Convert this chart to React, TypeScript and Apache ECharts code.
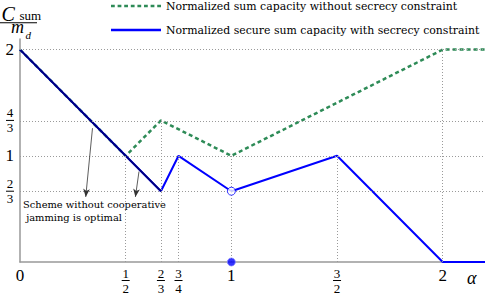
import React, { useEffect, useRef } from "react";
import * as echarts from "echarts";

const xTickValues = [0, 1 / 2, 2 / 3, 3 / 4, 1, 3 / 2, 2];
const xTickLabels = ["0", "1/2", "2/3", "3/4", "1", "3/2", "2"];
const yTickValues = [2 / 3, 1, 4 / 3, 2];
const yTickLabels = ["2/3", "1", "4/3", "2"];

const sumCapX = [0, 1 / 2, 2 / 3, 1, 2, 2.2];
const sumCapY = [2, 1, 4 / 3, 1, 2, 2];
const secureX = [0, 1 / 2, 2 / 3, 3 / 4, 1, 3 / 2, 2, 2.2];
const secureY = [2, 1, 2 / 3, 1, 2 / 3, 1, 0, 0];
const noJamX = [0, 1 / 2, 2 / 3];
const noJamY = [2, 1, 2 / 3];
const openPoint = [1, 2 / 3];
const filledPoint = [1, 0];
const dropX = [1 / 2, 2 / 3, 3 / 4, 1, 3 / 2, 2];
const dropY = [1, 4 / 3, 1, 1, 1, 2];
const gridY = [2 / 3, 1, 4 / 3, 2];
const arrowFromX = [0.343, 0.563];
const arrowFromY = [1.26, 0.852];
const arrowToX = [0.311, 0.546];
const arrowToY = [0.613, 0.613];

const SERIF = "Liberation Serif, serif";
const PROSE = "DejaVu Serif, serif";
const GREEN = "#2E8B57";
const BLUE = "#0000FF";
const NAVY = "#00007A";
const GRID = "#9a9a9a";

function dashPath(): string {
  let d = "path://";
  for (let k = 0; k < 8; k++) d += `M${k * 7},0h4v1h-4z`;
  return d;
}

function fracLabel(s: string): string {
  const p = s.split("/");
  if (p.length === 2) return `{n|${p[0]}}\n{b| }\n{n|${p[1]}}`;
  return `{i|${s}}`;
}

function labelFor(values: number[], labels: string[], v: number): string {
  for (let i = 0; i < values.length; i++) {
    if (Math.abs(values[i] - v) < 1e-6) return fracLabel(labels[i]);
  }
  return "";
}

const rich = {
  n: { fontSize: 13, lineHeight: 12, fontFamily: SERIF, color: "#000", align: "center" },
  b: { fontSize: 1, width: 8, height: 1, lineHeight: 3, backgroundColor: "#000", align: "center" },
  i: { fontSize: 17, lineHeight: 16, fontFamily: SERIF, color: "#000", align: "center" },
};

export default function App() {
  const ref = useRef<HTMLDivElement>(null);
  useEffect(() => {
    document.body.style.margin = "0";
    if (!ref.current) return;
    const chart = echarts.init(ref.current, undefined, { renderer: "svg" });
    const dotted = { color: GRID, width: 1, type: [1, 2] as any };
    chart.setOption({
      animation: false,
      textStyle: { fontFamily: SERIF },
      grid: { left: 20, width: 466.6, top: 39, bottom: 33 },
      legend: {
        orient: "vertical",
        left: 111,
        top: -1,
        padding: 0,
        itemWidth: 50,
        itemHeight: 2.5,
        itemGap: 10,
        symbolKeepAspect: false,
        data: [
          { name: "Normalized sum capacity without secrecy constraint", icon: dashPath() },
          { name: "Normalized secure sum capacity with secrecy constraint", icon: "path://M0,0h50v1h-50z" },
        ],
        textStyle: { fontFamily: PROSE, fontSize: 10.9, color: "#000", lineHeight: 14 },
      },
      xAxis: {
        type: "value",
        min: 0,
        max: 2.2,
        axisLine: { show: true, lineStyle: { color: "#999", width: 1.5 } },
        axisTick: { show: false },
        splitLine: { show: false },
        axisLabel: {
          customValues: xTickValues,
          margin: 5,
          fontFamily: SERIF,
          formatter: (v: number) => labelFor(xTickValues, xTickLabels, v),
          rich,
        },
      },
      yAxis: {
        type: "value",
        min: 0,
        max: 2.1,
        axisLine: { show: true, onZero: false, lineStyle: { color: "#999", width: 1.5 } },
        axisTick: { show: false },
        splitLine: { show: false },
        axisLabel: {
          customValues: yTickValues,
          margin: 6,
          fontFamily: SERIF,
          formatter: (v: number) => labelFor(yTickValues, yTickLabels, v),
          rich,
        },
      },
      graphic: [
        { type: "text", x: 1.5, y: 13.5, style: { text: "C", font: `italic 20px ${SERIF}`, lineHeight: 15, fill: "#000", verticalAlign: "middle" } },
        { type: "text", x: 19.5, y: 15.8, style: { text: "sum", font: `13px ${SERIF}`, lineHeight: 9, fill: "#000", verticalAlign: "middle" } },
        { type: "rect", shape: { x: 0, y: 22.3, width: 37, height: 1 }, style: { fill: "#000" } },
        { type: "text", x: 11, y: 27.2, style: { text: "m", font: `italic 18px ${SERIF}`, lineHeight: 9, fill: "#000", verticalAlign: "middle" } },
        { type: "text", x: 25.5, y: 34.5, style: { text: "d", font: `italic 11px ${SERIF}`, lineHeight: 8, fill: "#000", verticalAlign: "middle" } },
        { type: "text", x: 467, y: 278, style: { text: "α", font: `italic 18px ${SERIF}`, fill: "#000", verticalAlign: "middle" } },
        {
          type: "text",
          x: 23,
          y: 198,
          style: {
            text: "Scheme without cooperative\n jamming is optimal",
            font: `9.9px ${PROSE}`,
            lineHeight: 13,
            fill: "#000",
            verticalAlign: "top",
          },
        },
      ],
      series: [
        {
          name: "guides",
          type: "line",
          data: [],
          silent: true,
          z: 1,
          markLine: {
            silent: true,
            symbol: ["none", "none"],
            label: { show: false },
            lineStyle: dotted,
            data: [
              ...gridY.map((y) => ({ yAxis: y, lineStyle: dotted })),
              ...dropX.map((x, i) => [
                { coord: [x, 0], lineStyle: dotted },
                { coord: [x, dropY[i]] },
              ]),
            ],
          },
        },
        {
          name: "arrows",
          type: "line",
          data: [],
          silent: true,
          z: 5,
          markLine: {
            silent: true,
            symbol: ["none", "arrow"],
            symbolSize: [5, 8],
            label: { show: false },
            lineStyle: { color: "#333", width: 0.8, type: "solid" },
            data: arrowFromX.map((x, i) => [
              { coord: [x, arrowFromY[i]] },
              { coord: [arrowToX[i], arrowToY[i]] },
            ]),
          },
        },
        {
          name: "Normalized sum capacity without secrecy constraint",
          type: "line",
          data: sumCapX.map((x, i) => [x, sumCapY[i]]),
          symbol: "none",
          z: 2,
          color: GREEN,
          lineStyle: { color: GREEN, width: 2.5, type: [4, 3] },
        },
        {
          name: "Normalized secure sum capacity with secrecy constraint",
          type: "line",
          data: secureX.map((x, i) => [x, secureY[i]]),
          symbol: "none",
          z: 3,
          color: BLUE,
          lineStyle: { color: BLUE, width: 2 },
        },
        {
          name: "noJam",
          type: "line",
          data: noJamX.map((x, i) => [x, noJamY[i]]),
          symbol: "none",
          z: 4,
          lineStyle: { color: NAVY, width: 1.8 },
        },
        {
          name: "open",
          type: "scatter",
          data: [openPoint],
          symbol: "circle",
          symbolSize: 8,
          z: 6,
          itemStyle: { color: "#fff", borderColor: BLUE, borderWidth: 1 },
        },
        {
          name: "filled",
          type: "scatter",
          data: [filledPoint],
          symbol: "circle",
          symbolSize: 8,
          z: 6,
          itemStyle: { color: BLUE, borderColor: "#8080ff", borderWidth: 1 },
        },
      ],
    });
    return () => chart.dispose();
  }, []);
  return <div ref={ref} style={{ width: 485, height: 295 }} />;
}
